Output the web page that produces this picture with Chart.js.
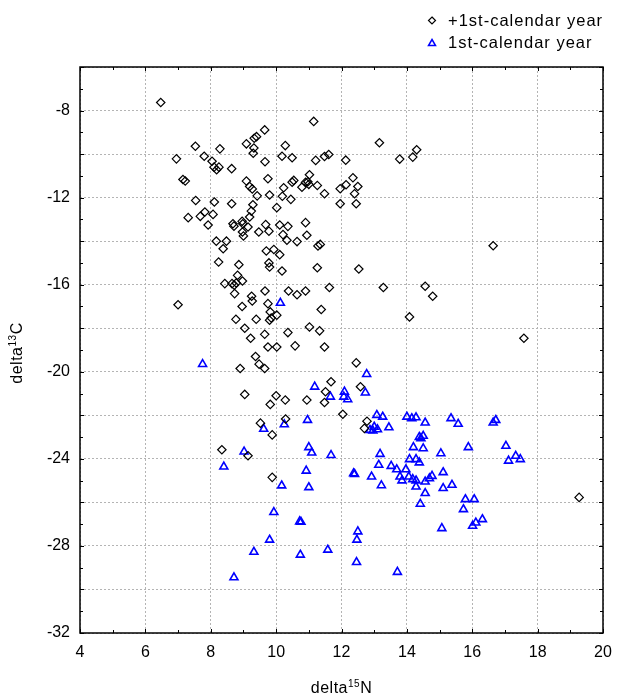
<!DOCTYPE html>
<html>
<head>
<meta charset="utf-8">
<script src="https://cdn.jsdelivr.net/npm/chart.js@4/dist/chart.umd.min.js"></script>
<style>
html,body{margin:0;padding:0;background:#fff;}
#wrap{width:618px;height:699px;}
</style>
</head>
<body>
<div id="wrap"><canvas id="c" width="618" height="699"></canvas></div>
<script>
// +1st-calendar year (diamonds)
const olderN = [6.47,7.53,8.28,6.95,7.80,8.04,8.10,8.18,8.25,8.64,9.09,9.33,9.40,9.32,9.30,7.15,7.22,7.54,8.11,8.64,
  9.09,9.19,9.27,9.42,9.29,9.24,9.19,7.82,7.68,7.31,8.07,7.92,8.68,8.71,8.96,8.98,9.14,8.97,9.00,9.47,
  8.17,8.48,8.38,8.24,8.86,8.82,8.97,8.43,8.65,8.72,8.78,8.73,9.25,9.27,7.00,8.96,8.77,9.39,9.04,9.22,
  9.37,9.48,8.90,9.04,9.52,8.34,9.14,9.65,11.15,10.28,10.18,10.49,9.66,11.21,11.48,11.61,12.13,13.16,13.78,14.18,
  14.30,9.75,9.80,10.23,10.49,10.54,10.79,11.02,10.90,11.00,10.97,11.26,11.48,10.19,10.45,11.96,12.14,12.35,12.50,12.40,
  11.96,12.45,10.02,9.68,9.78,10.11,10.36,10.21,10.33,10.64,10.90,10.94,11.28,11.35,9.70,9.93,10.11,9.78,9.80,10.18,
  11.26,12.53,9.66,10.38,10.64,10.90,11.63,13.28,14.56,9.75,11.38,9.82,10.02,9.80,9.85,14.08,9.65,10.36,11.02,11.33,
  9.75,10.02,10.58,11.48,9.65,12.45,11.68,12.58,11.51,10.00,9.82,10.28,10.94,11.48,12.04,10.29,9.88,12.78,12.70,9.88,
  16.64,14.79,17.58,19.27];
const olderC = [-7.63,-9.64,-9.76,-10.22,-10.10,-10.33,-10.60,-10.72,-10.60,-10.67,-9.53,-9.27,-9.20,-9.72,-9.96,-11.17,-11.24,-12.13,-12.20,-12.28,
  -11.24,-11.49,-11.60,-11.92,-12.33,-12.62,-12.89,-12.66,-12.86,-12.92,-12.77,-13.26,-13.20,-13.31,-13.09,-13.20,-13.35,-13.58,-13.76,-13.58,
  -14.00,-14.00,-14.35,-14.96,-15.08,-15.57,-15.83,-15.95,-15.95,-16.02,-15.92,-16.41,-16.53,-16.75,-16.92,-17.00,-17.59,-17.59,-18.00,-18.46,
  -19.30,-19.65,-19.85,-21.04,-22.36,-23.58,-23.86,-8.89,-8.50,-9.61,-10.10,-10.17,-10.35,-10.29,-10.11,-10.02,-10.28,-9.48,-10.23,-10.14,
  -9.80,-11.13,-11.88,-11.55,-11.29,-11.21,-11.52,-10.95,-11.30,-11.39,-11.27,-11.44,-11.82,-11.94,-12.08,-11.59,-11.41,-11.09,-11.49,-11.82,
  -12.28,-12.28,-12.46,-13.24,-13.54,-13.26,-13.32,-13.70,-13.96,-14.02,-13.15,-13.73,-14.22,-14.15,-14.45,-14.38,-14.62,-15.00,-15.19,-15.37,
  -15.22,-15.28,-16.29,-16.29,-16.46,-16.29,-16.13,-16.13,-16.07,-16.87,-17.14,-17.25,-17.40,-17.63,-17.53,-17.48,-18.28,-18.20,-17.94,-18.12,
  -18.86,-18.86,-18.81,-18.86,-19.85,-19.59,-20.46,-20.69,-20.92,-21.10,-21.50,-21.30,-21.30,-21.41,-21.95,-22.17,-22.90,-22.27,-22.60,-24.85,
  -14.21,-16.53,-18.46,-25.77];

// 1st-calendar year (triangles)
const firstN = [7.75,9.02,8.40,9.32,8.71,10.13,12.77,11.18,12.73,11.66,12.09,12.07,12.19,9.62,10.25,10.96,13.08,13.26,12.87,13.00,
  13.10,12.96,13.45,14.00,14.15,14.28,14.56,14.38,14.50,15.35,15.57,16.64,16.72,11.00,11.09,11.68,10.92,10.17,11.00,12.37,
  12.40,12.92,13.22,13.18,13.14,13.52,13.69,13.97,13.79,13.85,14.06,14.18,14.28,14.28,14.08,14.28,14.38,14.20,14.50,14.56,
  14.56,14.41,14.69,9.93,10.72,10.76,12.50,12.47,9.80,10.74,11.58,12.46,13.71,14.43,15.04,15.88,17.03,17.11,17.33,17.47,
  15.11,14.77,15.11,15.38,15.79,16.06,15.73,16.31,16.11,16.01,15.07];
const firstC = [-19.65,-23.67,-24.36,-28.28,-29.45,-16.84,-20.11,-20.69,-20.96,-21.15,-20.92,-21.15,-21.27,-22.63,-22.42,-22.22,-21.99,-22.07,-22.68,-22.53,
  -22.65,-22.71,-22.56,-22.07,-22.14,-22.10,-22.34,-23.00,-22.95,-22.14,-22.40,-22.34,-22.22,-23.47,-23.72,-23.83,-24.55,-25.23,-25.31,-24.67,
  -24.70,-24.82,-25.22,-23.78,-24.28,-24.33,-24.49,-24.49,-24.82,-25.00,-24.82,-24.94,-25.28,-25.00,-24.02,-24.02,-24.17,-23.47,-23.52,-25.05,
  -25.58,-26.07,-24.90,-26.45,-26.88,-26.90,-27.34,-27.72,-27.72,-28.41,-28.18,-28.75,-29.20,-23.06,-23.75,-23.47,-23.41,-24.09,-23.87,-24.02,
  -24.62,-24.79,-25.35,-25.20,-25.86,-25.86,-26.32,-26.78,-26.93,-27.08,-27.19];

const seriesNames = ['+1st-calendar year', '1st-calendar year'];
const xRange = [4, 20], yRange = [-32, -6];

const FONT = "'Liberation Sans', Arial, sans-serif";
const pts = (xs, ys) => xs.map((v, i) => ({x: v, y: ys[i]}));

// frame, inward ticks, legend and axis titles
const decor = {
  id: 'decor',
  afterDraw(chart){
    const {ctx, chartArea: a, scales: {x, y}} = chart;
    ctx.save();
    ctx.strokeStyle = '#000'; ctx.lineWidth = 1;
    ctx.beginPath();
    for (let v = xRange[0]; v <= xRange[1]; v++){
      const px = Math.round(x.getPixelForValue(v)) + 0.5, len = v % 2 === 0 ? 4 : 3;
      ctx.moveTo(px, a.bottom); ctx.lineTo(px, a.bottom - len);
      ctx.moveTo(px, a.top); ctx.lineTo(px, a.top + len);
    }
    for (let v = yRange[0]; v <= yRange[1]; v++){
      const py = Math.round(y.getPixelForValue(v)) + 0.5, len = v % 2 === 0 ? 4 : 3;
      ctx.moveTo(a.left, py); ctx.lineTo(a.left + len, py);
      ctx.moveTo(a.right, py); ctx.lineTo(a.right - len, py);
    }
    ctx.stroke();
    ctx.lineWidth = 1.5;
    ctx.strokeRect(a.left, a.top, a.right - a.left, a.bottom - a.top);

    // legend
    ctx.lineWidth = 1.2; ctx.strokeStyle = '#000';
    ctx.beginPath();
    ctx.moveTo(432, 17); ctx.lineTo(435.5, 20.5); ctx.lineTo(432, 24); ctx.lineTo(428.5, 20.5); ctx.closePath();
    ctx.stroke();
    ctx.strokeStyle = '#0000ff'; ctx.lineWidth = 1.5;
    ctx.beginPath();
    ctx.moveTo(432, 39.5); ctx.lineTo(435.5, 45.5); ctx.lineTo(428.5, 45.5); ctx.closePath();
    ctx.stroke();
    ctx.fillStyle = '#000'; ctx.font = '16.5px ' + FONT; ctx.textBaseline = 'middle'; ctx.textAlign = 'left';
    ctx.letterSpacing = '1px';
    ctx.fillText(seriesNames[0], 448, 21);
    ctx.fillText(seriesNames[1], 448, 43.5);
    ctx.letterSpacing = '0.5px';

    // axis titles with superscripts
    const title = (base, sup, tail) => {
      ctx.font = '16px ' + FONT;
      const w1 = ctx.measureText(base).width, w3 = ctx.measureText(tail).width;
      ctx.font = '10px ' + FONT;
      const w2 = ctx.measureText(sup).width;
      let cx = -(w1 + w2 + w3) / 2;
      ctx.font = '16px ' + FONT; ctx.fillText(base, cx, 0); cx += w1;
      ctx.font = '10px ' + FONT; ctx.fillText(sup, cx, -5); cx += w2;
      ctx.font = '16px ' + FONT; ctx.fillText(tail, cx, 0);
    };
    ctx.textAlign = 'left'; ctx.textBaseline = 'middle';
    ctx.save(); ctx.translate((a.left + a.right) / 2, 689); title('delta', '15', 'N'); ctx.restore();
    ctx.save(); ctx.translate(18, (a.top + a.bottom) / 2 + 3); ctx.rotate(-Math.PI / 2); title('delta', '13', 'C'); ctx.restore();
    ctx.letterSpacing = '0px';
    ctx.restore();
  }
};

new Chart(document.getElementById('c'), {
  type: 'scatter',
  data: {
    datasets: [
      {label: seriesNames[0], data: pts(olderN, olderC), pointStyle: 'rectRot', radius: 4.2,
       borderColor: '#000', backgroundColor: 'rgba(0,0,0,0)', borderWidth: 1.2},
      {label: seriesNames[1], data: pts(firstN, firstC), pointStyle: 'triangle', radius: 4.6,
       borderColor: '#0000ff', backgroundColor: 'rgba(0,0,0,0)', borderWidth: 1.6}
    ]
  },
  options: {
    responsive: false, animation: false, devicePixelRatio: 1,
    layout: {padding: {top: 67, right: 15, left: 0, bottom: 0}},
    plugins: {legend: {display: false}, tooltip: {enabled: false}},
    scales: {
      x: {
        type: 'linear', min: xRange[0], max: xRange[1],
        afterFit: s => { s.height = 66; s.paddingLeft = 0; s.paddingRight = 0; },
        ticks: {stepSize: 2, color: '#000', padding: 10, font: {family: FONT, size: 16}},
        grid: {color: '#b4b4b4', lineWidth: 1, drawTicks: false},
        border: {display: false, dash: [2, 2]}
      },
      y: {
        type: 'linear', min: yRange[0], max: yRange[1],
        afterFit: s => { s.width = 80; s.paddingTop = 0; s.paddingBottom = 0; },
        ticks: {stepSize: 2, color: '#000', padding: 10, font: {family: FONT, size: 16},
                callback: v => (v % 4 === 0 ? String(v) : '')},
        grid: {color: '#b4b4b4', lineWidth: 1, drawTicks: false},
        border: {display: false, dash: [2, 2]}
      }
    }
  },
  plugins: [decor]
});
</script>
</body>
</html>
